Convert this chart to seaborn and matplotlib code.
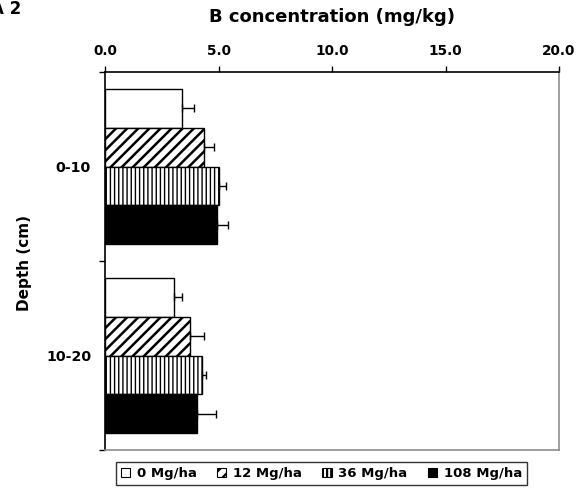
import matplotlib
matplotlib.use("Agg")
import matplotlib.pyplot as plt
import matplotlib.patches as mpatches
from matplotlib.ticker import FixedLocator
import numpy as np
import pandas as pd
import seaborn as sns

# Boron concentration by soil depth and application rate
depths = ["0-10", "10-20"]
rates = ["0 Mg/ha", "12 Mg/ha", "36 Mg/ha", "108 Mg/ha"]
boron_0_10 = [3.40, 4.38, 5.03, 4.95]
boron_10_20 = [3.05, 3.74, 4.28, 4.07]
err_0_10 = [0.50, 0.42, 0.29, 0.47]
err_10_20 = [0.35, 0.63, 0.19, 0.84]
x_ticks = [0.0, 5.0, 10.0, 15.0, 20.0]

rows = []
for d, vals, errs in [(depths[0], boron_0_10, err_0_10), (depths[1], boron_10_20, err_10_20)]:
    for r, v, e in zip(rates, vals, errs):
        rows.append({"depth": d, "rate": r, "boron": v, "err": e})
df = pd.DataFrame(rows)

sns.set_theme(style="white")
plt.rcParams["font.family"] = ["DejaVu Sans"]
plt.rcParams["font.weight"] = "bold"
plt.rcParams["hatch.linewidth"] = 1.6
for key in ["text.color", "axes.labelcolor", "xtick.color", "ytick.color",
            "xtick.labelcolor", "ytick.labelcolor"]:
    plt.rcParams[key] = "black"

fig = plt.figure(figsize=(5.86, 4.91), dpi=100)
ax = fig.add_axes([105 / 586, 1 - 450 / 491, 454 / 586, 378 / 491])

sns.barplot(data=df, y="depth", x="boron", hue="rate", order=depths,
            hue_order=rates, orient="h", width=0.82, errorbar=None,
            palette=["white"] * 4, edgecolor="black", linewidth=1.0,
            legend=False, ax=ax)

styles = {
    "0 Mg/ha": dict(face="white", hatch=None),
    "12 Mg/ha": dict(face="white", hatch="///"),
    "36 Mg/ha": dict(face="white", hatch="||||"),
    "108 Mg/ha": dict(face="black", hatch=None),
}

# Bars are ordered by hue, then by category
bars = ax.patches
k = 0
centers, widths, errs = [], [], []
for r in rates:
    for d in depths:
        p = bars[k]
        st = styles[r]
        p.set_facecolor(st["face"])
        if st["hatch"]:
            p.set_hatch(st["hatch"])
            if hasattr(p, "set_hatch_linewidth"):
                p.set_hatch_linewidth(1.8 if r == "12 Mg/ha" else 1.0)
        row = df[(df.rate == r) & (df.depth == d)].iloc[0]
        centers.append(p.get_y() + p.get_height() / 2)
        widths.append(row.boron)
        errs.append(row.err)
        k += 1

errs = np.array(errs)
ax.errorbar(widths, centers, xerr=[np.zeros_like(errs), errs], fmt="none",
            ecolor="black", elinewidth=1.0, capsize=3, capthick=1.0, zorder=5)

ax.set_xlim(0, 20)
ax.set_ylim(1.5, -0.5)
ax.xaxis.tick_top()
ax.xaxis.set_label_position("top")
ax.set_xticks(x_ticks)
ax.set_xticklabels([f"{t:.1f}" for t in x_ticks], fontsize=9.8, fontweight="bold")
ax.tick_params(axis="x", which="major", direction="out", length=4, width=1,
               color="black", pad=6, bottom=False, top=True)
ax.set_xlabel("B concentration (mg/kg)", fontsize=13, fontweight="bold", labelpad=16)

ax.set_yticks([0, 1])
ax.set_yticklabels(depths, fontsize=10.2, fontweight="bold")
ax.yaxis.set_minor_locator(FixedLocator([-0.5, 0.5, 1.5]))
ax.tick_params(axis="y", which="major", length=0, pad=10)
ax.tick_params(axis="y", which="minor", left=True, direction="out", length=4,
               width=1, color="black")
ax.set_ylabel("Depth (cm)", fontsize=11, fontweight="bold")
ax.yaxis.label.set_va("center")
ax.yaxis.set_label_coords((25 - 105) / 454, (450 - 263) / 378)

for side in ["top", "left"]:
    ax.spines[side].set_color("black")
    ax.spines[side].set_linewidth(1.2)
for side in ["right", "bottom"]:
    ax.spines[side].set_color("#8c8c8c")
    ax.spines[side].set_linewidth(1.2)
for s in ax.spines.values():
    s.set_visible(True)

handles = []
for r in rates:
    st = styles[r]
    handles.append(mpatches.Patch(facecolor=st["face"], edgecolor="black",
                                  hatch=st["hatch"], linewidth=0.8, label=r))
leg = fig.legend(handles=handles, loc="center", ncol=4,
                 bbox_to_anchor=(321.5 / 586, 1 - 473.5 / 491),
                 prop={"size": 9.5, "weight": "bold"},
                 handlelength=0.7, handleheight=0.7, handletextpad=0.5,
                 columnspacing=1.55, borderpad=0.35, borderaxespad=0,
                 fancybox=False, frameon=True, edgecolor="black")
leg.get_frame().set_linewidth(1.0)

fig.text(-9 / 586, 1 - 0 / 491, "A 2", fontsize=12, fontweight="bold",
         ha="left", va="top")

fig.savefig("out.png", dpi=100)
